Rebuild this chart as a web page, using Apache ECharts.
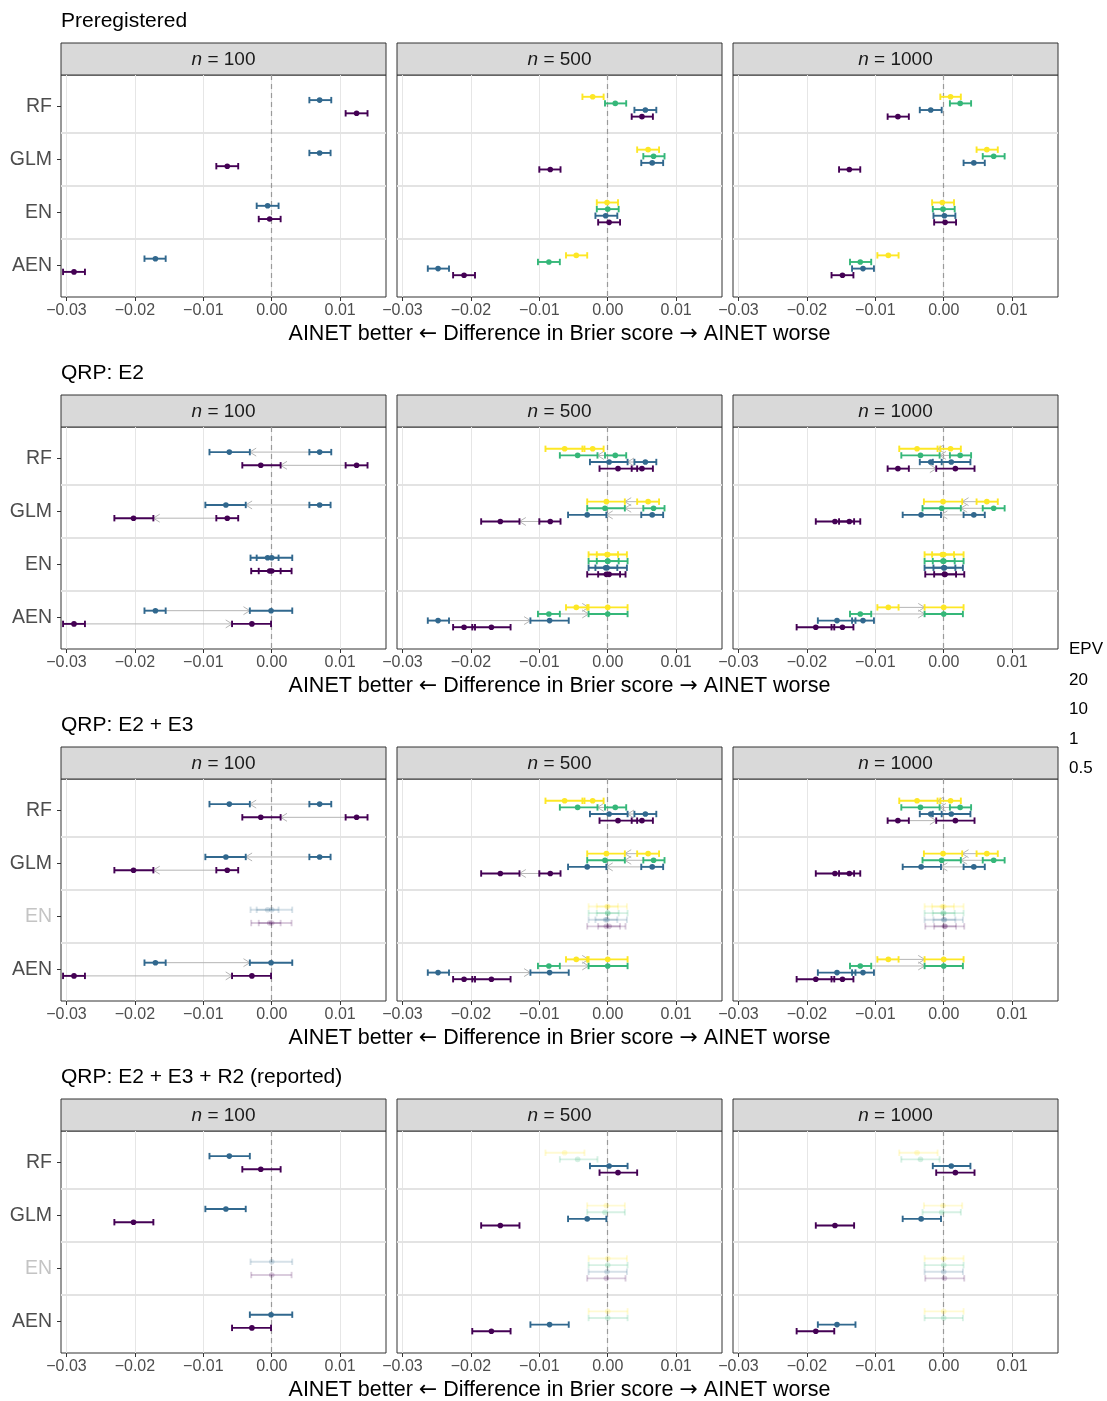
<!DOCTYPE html>
<html><head><meta charset="utf-8">
<script src="https://cdn.jsdelivr.net/npm/echarts@6.0.0/dist/echarts.min.js"></script>
<style>html,body{margin:0;padding:0;background:#fff}#c{width:1107px;height:1401px}</style>
</head><body><div id="c"></div>
<script>
const models = ['RF', 'GLM', 'EN', 'AEN'];
const epvLevels = ['20', '10', '1', '0.5'];
const epvColors = ['#FDE725', '#35B779', '#31688E', '#440154'];
const sampleSizes = [100, 500, 1000];
const scenarioTitles = ['Preregistered', 'QRP: E2', 'QRP: E2 + E3', 'QRP: E2 + E3 + R2 (reported)'];
const xTicks = [-0.03, -0.02, -0.01, 0, 0.01];
const xTitleParts = ['AINET better ', '\u2190', ' Difference in Brier score ', '\u2192', ' AINET worse'];
const legendTitle = 'EPV';

// [model, EPV, estimate, lower, upper]  -- preregistered analysis
const prereg_n100 = [
  ['RF', '1', 0.0070, 0.0055, 0.0087], ['RF', '0.5', 0.0124, 0.0108, 0.0140],
  ['GLM', '1', 0.0070, 0.0055, 0.0086], ['GLM', '0.5', -0.0065, -0.0081, -0.0049],
  ['EN', '1', -0.0006, -0.0022, 0.0010], ['EN', '0.5', -0.0003, -0.0019, 0.0013],
  ['AEN', '1', -0.0170, -0.0186, -0.0155], ['AEN', '0.5', -0.0289, -0.0305, -0.0273]
];
const prereg_n500 = [
  ['RF', '20', -0.0022, -0.0037, -0.0006], ['RF', '10', 0.0011, -0.0004, 0.0027],
  ['RF', '1', 0.0055, 0.0039, 0.0071], ['RF', '0.5', 0.0050, 0.0035, 0.0066],
  ['GLM', '20', 0.0059, 0.0043, 0.0075], ['GLM', '10', 0.0067, 0.0052, 0.0083],
  ['GLM', '1', 0.0065, 0.0049, 0.0081], ['GLM', '0.5', -0.0084, -0.0100, -0.0069],
  ['EN', '20', -0.0001, -0.0016, 0.0015], ['EN', '10', 0.0000, -0.0016, 0.0016],
  ['EN', '1', -0.0003, -0.0018, 0.0014], ['EN', '0.5', 0.0002, -0.0014, 0.0018],
  ['AEN', '20', -0.0046, -0.0061, -0.0030], ['AEN', '10', -0.0086, -0.0102, -0.0070],
  ['AEN', '1', -0.0248, -0.0263, -0.0232], ['AEN', '0.5', -0.0210, -0.0226, -0.0194]
];
const prereg_n1000 = [
  ['RF', '20', 0.0010, -0.0005, 0.0025], ['RF', '10', 0.0024, 0.0009, 0.0040],
  ['RF', '1', -0.0019, -0.0035, -0.0003], ['RF', '0.5', -0.0067, -0.0082, -0.0051],
  ['GLM', '20', 0.0063, 0.0048, 0.0079], ['GLM', '10', 0.0073, 0.0057, 0.0089],
  ['GLM', '1', 0.0044, 0.0029, 0.0060], ['GLM', '0.5', -0.0138, -0.0153, -0.0122],
  ['EN', '20', -0.0002, -0.0017, 0.0015], ['EN', '10', -0.0001, -0.0016, 0.0016],
  ['EN', '1', 0.0001, -0.0015, 0.0017], ['EN', '0.5', 0.0002, -0.0014, 0.0018],
  ['AEN', '20', -0.0081, -0.0097, -0.0066], ['AEN', '10', -0.0122, -0.0137, -0.0106],
  ['AEN', '1', -0.0118, -0.0134, -0.0102], ['AEN', '0.5', -0.0148, -0.0164, -0.0132]
];

// [model, EPV, estimate, lower, upper]  -- result after questionable research practices
const qrp_n100 = [
  ['RF', '1', -0.0062, -0.0091, -0.0032], ['RF', '0.5', -0.0016, -0.0043, 0.0013],
  ['GLM', '1', -0.0067, -0.0097, -0.0038], ['GLM', '0.5', -0.0202, -0.0230, -0.0173],
  ['EN', '1', 0.0000, -0.0031, 0.0030], ['EN', '0.5', 0.0000, -0.0030, 0.0029],
  ['AEN', '1', -0.0001, -0.0032, 0.0030], ['AEN', '0.5', -0.0029, -0.0058, -0.0001]
];
const qrp_n500 = [
  ['RF', '20', -0.0063, -0.0091, -0.0034], ['RF', '10', -0.0044, -0.0070, -0.0015],
  ['RF', '1', 0.0002, -0.0026, 0.0029], ['RF', '0.5', 0.0015, -0.0012, 0.0043],
  ['GLM', '20', -0.0002, -0.0030, 0.0025], ['GLM', '10', -0.0004, -0.0030, 0.0025],
  ['GLM', '1', -0.0030, -0.0058, -0.0002], ['GLM', '0.5', -0.0157, -0.0185, -0.0129],
  ['EN', '20', 0.0000, -0.0028, 0.0028], ['EN', '10', 0.0000, -0.0028, 0.0029],
  ['EN', '1', -0.0001, -0.0028, 0.0028], ['EN', '0.5', -0.0002, -0.0030, 0.0026],
  ['AEN', '20', 0.0000, -0.0028, 0.0029], ['AEN', '10', 0.0000, -0.0028, 0.0029],
  ['AEN', '1', -0.0085, -0.0113, -0.0057], ['AEN', '0.5', -0.0170, -0.0198, -0.0142]
];
const qrp_n1000 = [
  ['RF', '20', -0.0039, -0.0065, -0.0009], ['RF', '10', -0.0034, -0.0062, -0.0006],
  ['RF', '1', 0.0011, -0.0016, 0.0039], ['RF', '0.5', 0.0017, -0.0011, 0.0045],
  ['GLM', '20', -0.0001, -0.0029, 0.0027], ['GLM', '10', -0.0003, -0.0031, 0.0025],
  ['GLM', '1', -0.0033, -0.0060, -0.0004], ['GLM', '0.5', -0.0159, -0.0187, -0.0131],
  ['EN', '20', 0.0000, -0.0028, 0.0029], ['EN', '10', 0.0000, -0.0028, 0.0029],
  ['EN', '1', 0.0000, -0.0028, 0.0028], ['EN', '0.5', 0.0001, -0.0027, 0.0030],
  ['AEN', '20', 0.0000, -0.0028, 0.0029], ['AEN', '10', 0.0000, -0.0028, 0.0028],
  ['AEN', '1', -0.0156, -0.0184, -0.0129], ['AEN', '0.5', -0.0187, -0.0215, -0.0160]
];

const fadedModels_E2E3 = ['EN'];
const fadedModels_R2 = ['EN'];
const fadedEpv_R2 = ['20', '10'];

const preregBySize = [prereg_n100, prereg_n500, prereg_n1000];
const qrpBySize = [qrp_n100, qrp_n500, qrp_n1000];

const FONT = '"Liberation Sans", Arial, Helvetica, sans-serif';
const ARROWFONT = '"DejaVu Sans", "Liberation Sans", sans-serif';
const GL = 61, GSTEP = 336, GW = 325, GT = 75, RSTEP = 352, GH = 222, STRIPH = 32;
const FADE = 0.2;

function fmtTick(v) { return (v < -1e-9 ? '\u2212' : '') + Math.abs(v).toFixed(2); }
function levelsFor(list) { return epvLevels.filter(l => list.some(d => d[1] === l)); }
function yPos(model, epv, present) {
  const m = present.length, k = present.indexOf(epv);
  return models.indexOf(model) + 1 + (k - (m - 1) / 2) * (0.5 / m);
}
function barItem(d, present, op) {
  return [d[2], d[3], d[4], yPos(d[0], d[1], present), epvLevels.indexOf(d[1]), op];
}

function renderBar(params, api) {
  const y = api.value(3);
  const pE = api.coord([api.value(0), y]);
  const pL = api.coord([api.value(1), y]);
  const pH = api.coord([api.value(2), y]);
  const color = epvColors[api.value(4)];
  const op = api.value(5);
  const cap = 3.2;
  const ls = () => ({ stroke: color, lineWidth: 1.9, opacity: op });
  return { type: 'group', children: [
    { type: 'line', shape: { x1: pL[0], y1: pE[1], x2: pH[0], y2: pE[1] }, style: ls() },
    { type: 'line', shape: { x1: pL[0], y1: pE[1] - cap, x2: pL[0], y2: pE[1] + cap }, style: ls() },
    { type: 'line', shape: { x1: pH[0], y1: pE[1] - cap, x2: pH[0], y2: pE[1] + cap }, style: ls() },
    { type: 'circle', shape: { cx: pE[0], cy: pE[1], r: 2.8 }, style: { fill: color, opacity: op } }
  ] };
}
function renderArrow(params, api) {
  const y = api.value(2);
  const a = api.coord([api.value(0), y]), b = api.coord([api.value(1), y]);
  const op = api.value(3);
  const dir = b[0] >= a[0] ? 1 : -1;
  const L = 7.5, ang = 32 * Math.PI / 180;
  const dx = L * Math.cos(ang) * dir, dy = L * Math.sin(ang);
  const st = () => ({ stroke: '#b5b5b5', lineWidth: 1, opacity: op, fill: 'none' });
  return { type: 'group', children: [
    { type: 'line', shape: { x1: a[0], y1: a[1], x2: b[0], y2: b[1] }, style: st() },
    { type: 'polyline', shape: { points: [[b[0] - dx, b[1] - dy], [b[0], b[1]], [b[0] - dx, b[1] + dy]] }, style: st() }
  ] };
}

const grids = [], xAxes = [], yAxes = [], series = [], graphics = [];
const xTitleRich = xTitleParts.map((t, i) => (i % 2 === 1 ? '{a|' + t + '}' : '{t|' + t + '}')).join('');

for (let r = 0; r < scenarioTitles.length; r++) {
  graphics.push({ type: 'text', x: GL, y: 21 + RSTEP * r, style: { text: scenarioTitles[r], fontSize: 21, fontFamily: FONT, fill: '#000', verticalAlign: 'middle', align: 'left' } });
  graphics.push({ type: 'text', x: 559.5, y: 334 + RSTEP * r, style: { text: xTitleRich, fontSize: 21.5, fontFamily: FONT, fill: '#000', verticalAlign: 'middle', align: 'center',
    rich: { t: { fontSize: 21.5, fontFamily: FONT, fill: '#000' }, a: { fontSize: 22, fontFamily: ARROWFONT, fill: '#000' } } } });
  const fadedLabelModels = r === 2 ? fadedModels_E2E3 : (r === 3 ? fadedModels_R2 : []);
  for (let c = 0; c < sampleSizes.length; c++) {
    const idx = r * 3 + c;
    const left = GL + GSTEP * c, top = GT + RSTEP * r;
    grids.push({ left: left, top: top, width: GW, height: GH, show: true, borderColor: '#333', borderWidth: 1, backgroundColor: '#fff', containLabel: false, outerBoundsMode: 'none' });
    xAxes.push({ gridIndex: idx, type: 'value', min: -0.0308, max: 0.0167, position: 'bottom',
      axisLine: { show: false, onZero: false },
      axisTick: { show: true, customValues: xTicks, length: 4, lineStyle: { color: '#333', width: 1 } },
      axisLabel: { show: true, customValues: xTicks, formatter: fmtTick, color: '#4d4d4d', fontSize: 16, fontFamily: FONT, margin: 6 },
      splitLine: { show: true, lineStyle: { color: '#e6e6e6', width: 1 } } });
    yAxes.push({ gridIndex: idx, type: 'value', inverse: true, min: 0.4, max: 4.6, position: 'left',
      axisLine: { show: false, onZero: false }, splitLine: { show: false },
      axisTick: { show: c === 0, customValues: models.map((m, i) => i + 1), length: 4, lineStyle: { color: '#333', width: 1 } },
      axisLabel: { show: c === 0, customValues: models.map((m, i) => i + 1), margin: 9, fontSize: 19.5, fontFamily: FONT, color: '#4d4d4d',
        formatter: v => { const nm = models[Math.round(v) - 1]; return fadedLabelModels.includes(nm) ? '{f|' + nm + '}' : nm; },
        rich: { f: { color: '#c4c4c4', fontSize: 19.5, fontFamily: FONT } } } });

    // strip
    graphics.push({ type: 'rect', shape: { x: left, y: 43 + RSTEP * r, width: GW, height: STRIPH }, style: { fill: '#d9d9d9', stroke: '#333', lineWidth: 1 } });
    graphics.push({ type: 'text', x: left + GW / 2, y: 43 + RSTEP * r + STRIPH / 2 + 1, style: {
      text: '{i|n} = ' + sampleSizes[c], fontSize: 19, fontFamily: FONT, fill: '#1a1a1a', align: 'center', verticalAlign: 'middle',
      rich: { i: { fontStyle: 'italic', fontSize: 19, fontFamily: FONT, fill: '#1a1a1a' } } } });

    const pre = preregBySize[c], q = qrpBySize[c];
    const present = levelsFor(pre);
    const bars = [], arrows = [];
    if (r === 0) {
      pre.forEach(d => bars.push(barItem(d, present, 1)));
    } else if (r === 1 || r === 2) {
      pre.forEach(d => {
        const op = (r === 2 && fadedModels_E2E3.includes(d[0])) ? FADE : 1;
        bars.push(barItem(d, present, op));
      });
      q.forEach(d => {
        const op = (r === 2 && fadedModels_E2E3.includes(d[0])) ? FADE : 1;
        const o = pre.find(p => p[0] === d[0] && p[1] === d[1]);
        const y = yPos(d[0], d[1], present);
        if (o) {
          if (d[4] < o[3]) arrows.push([o[3], d[4], y, op]);
          else if (d[3] > o[4]) arrows.push([o[4], d[3], y, op]);
        }
      });
      q.forEach(d => {
        const op = (r === 2 && fadedModels_E2E3.includes(d[0])) ? FADE : 1;
        bars.push(barItem(d, present, op));
      });
    } else {
      q.forEach(d => {
        const op = (fadedModels_R2.includes(d[0]) || fadedEpv_R2.includes(d[1])) ? FADE : 1;
        bars.push(barItem(d, present, op));
      });
    }

    series.push({ type: 'custom', xAxisIndex: idx, yAxisIndex: idx, z: 2, silent: true,
      renderItem: renderArrow, data: arrows, encode: { x: [0, 1], y: 2 },
      markLine: { silent: true, symbol: 'none', z: 1, animation: false, label: { show: false },
        data: [
          { yAxis: 1.5, lineStyle: { color: '#e3e3e3', width: 2.2, type: 'solid' } },
          { yAxis: 2.5, lineStyle: { color: '#e3e3e3', width: 2.2, type: 'solid' } },
          { yAxis: 3.5, lineStyle: { color: '#e3e3e3', width: 2.2, type: 'solid' } },
          { xAxis: 0, lineStyle: { color: '#9a9a9a', width: 1.2, type: [5, 4] } }
        ] } });
    series.push({ type: 'custom', xAxisIndex: idx, yAxisIndex: idx, z: 3, silent: true,
      renderItem: renderBar, data: bars, encode: { x: [0, 1, 2], y: 3 } });
  }
}

// legend (title and labels only, as in the reference)
graphics.push({ type: 'text', x: 1069, y: 649, style: { text: legendTitle, fontSize: 17, fontFamily: FONT, fill: '#000', verticalAlign: 'middle' } });
epvLevels.forEach((l, i) => {
  graphics.push({ type: 'text', x: 1069, y: 680.5 + i * 29.2, style: { text: l, fontSize: 17, fontFamily: FONT, fill: '#000', verticalAlign: 'middle' } });
});

const chart = echarts.init(document.getElementById('c'), null, { renderer: 'canvas' });
chart.setOption({
  backgroundColor: '#fff',
  animation: false,
  grid: grids,
  xAxis: xAxes,
  yAxis: yAxes,
  series: series,
  graphic: graphics
});
</script>
</body></html>
